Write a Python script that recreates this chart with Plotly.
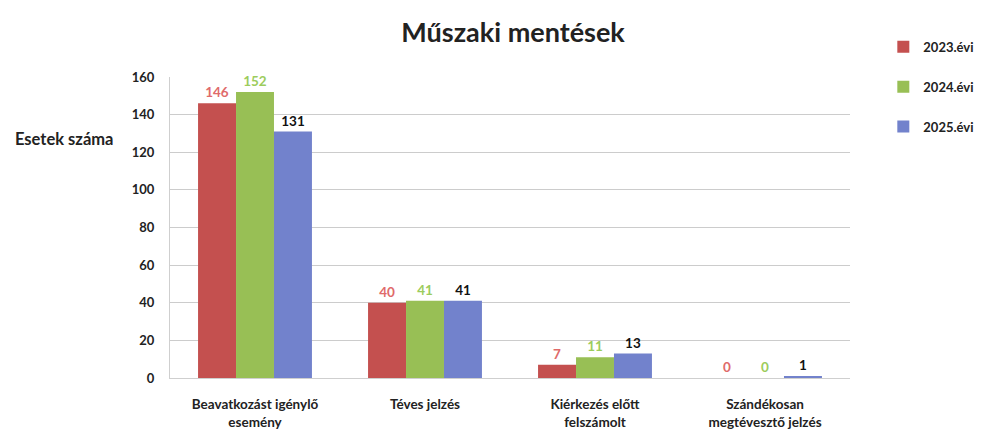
import plotly.graph_objects as go

categories = ["Beavatkozást igénylő<br>esemény", "Téves jelzés", "Kiérkezés előtt<br>felszámolt", "Szándékosan<br>megtévesztő jelzés"]
series_names = ["2023.évi", "2024.évi", "2025.évi"]
values_2023 = [146, 40, 7, 0]
values_2024 = [152, 41, 11, 0]
values_2025 = [131, 41, 13, 1]
y_ticks = [0, 20, 40, 60, 80, 100, 120, 140, 160]

bar_colors = ["#c4504f", "#98bf55", "#7282cc"]
label_colors = ["#e06a6a", "#9ccc5c", "#111111"]
font_family = "Lato, 'Open Sans', sans-serif"

fig = go.Figure()
for i, (name, vals) in enumerate(zip(series_names, [values_2023, values_2024, values_2025])):
    fig.add_trace(go.Bar(
        x=categories, y=vals, name=f"<b>{name}</b>",
        marker=dict(color=bar_colors[i], line=dict(width=0)),
        text=[f"<b>{v}</b>" for v in vals], textposition="outside",
        textfont=dict(color=label_colors[i], size=13.5, family=font_family),
        cliponaxis=False, legendgroup=name,
    ))

fig.update_layout(
    width=981, height=434,
    margin=dict(l=170, r=131, t=77, b=56, autoexpand=False),
    paper_bgcolor="white", plot_bgcolor="white",
    barmode="group", bargap=0.33, bargroupgap=0,
    font=dict(family=font_family, color="#222222"),
    title=dict(text="<b>Műszaki mentések</b>", x=0.523, xanchor="center", y=0.925, yanchor="middle",
               font=dict(size=27, family=font_family, color="#222222")),
    legend=dict(x=1.049, y=1.15, xanchor="left", yanchor="top", tracegroupgap=20,
                font=dict(size=13, family=font_family, color="#222222"), itemwidth=30),
    showlegend=True,
    xaxis=dict(showgrid=False, showline=True, linecolor="#cfcfcf", ticks="", ticklabelstandoff=14,
               tickfont=dict(size=13.5, family=font_family, color="#222222"), tickprefix="<b>", ticksuffix="</b>"),
    yaxis=dict(range=[0, 160], tickvals=y_ticks, ticktext=[f"<b>{t}</b>" for t in y_ticks],
               showgrid=True, gridcolor="#cccccc", showline=True, linecolor="#cfcfcf",
               zeroline=False, ticks="", ticklabelstandoff=12,
               tickfont=dict(size=13, family=font_family, color="#222222")),
    annotations=[dict(text="<b>Esetek száma</b>", xref="paper", yref="paper", x=-0.081, y=0.795,
                      xanchor="right", yanchor="middle", showarrow=False,
                      font=dict(size=16.5, family=font_family, color="#222222"))],
)

fig.write_html("out.html")
